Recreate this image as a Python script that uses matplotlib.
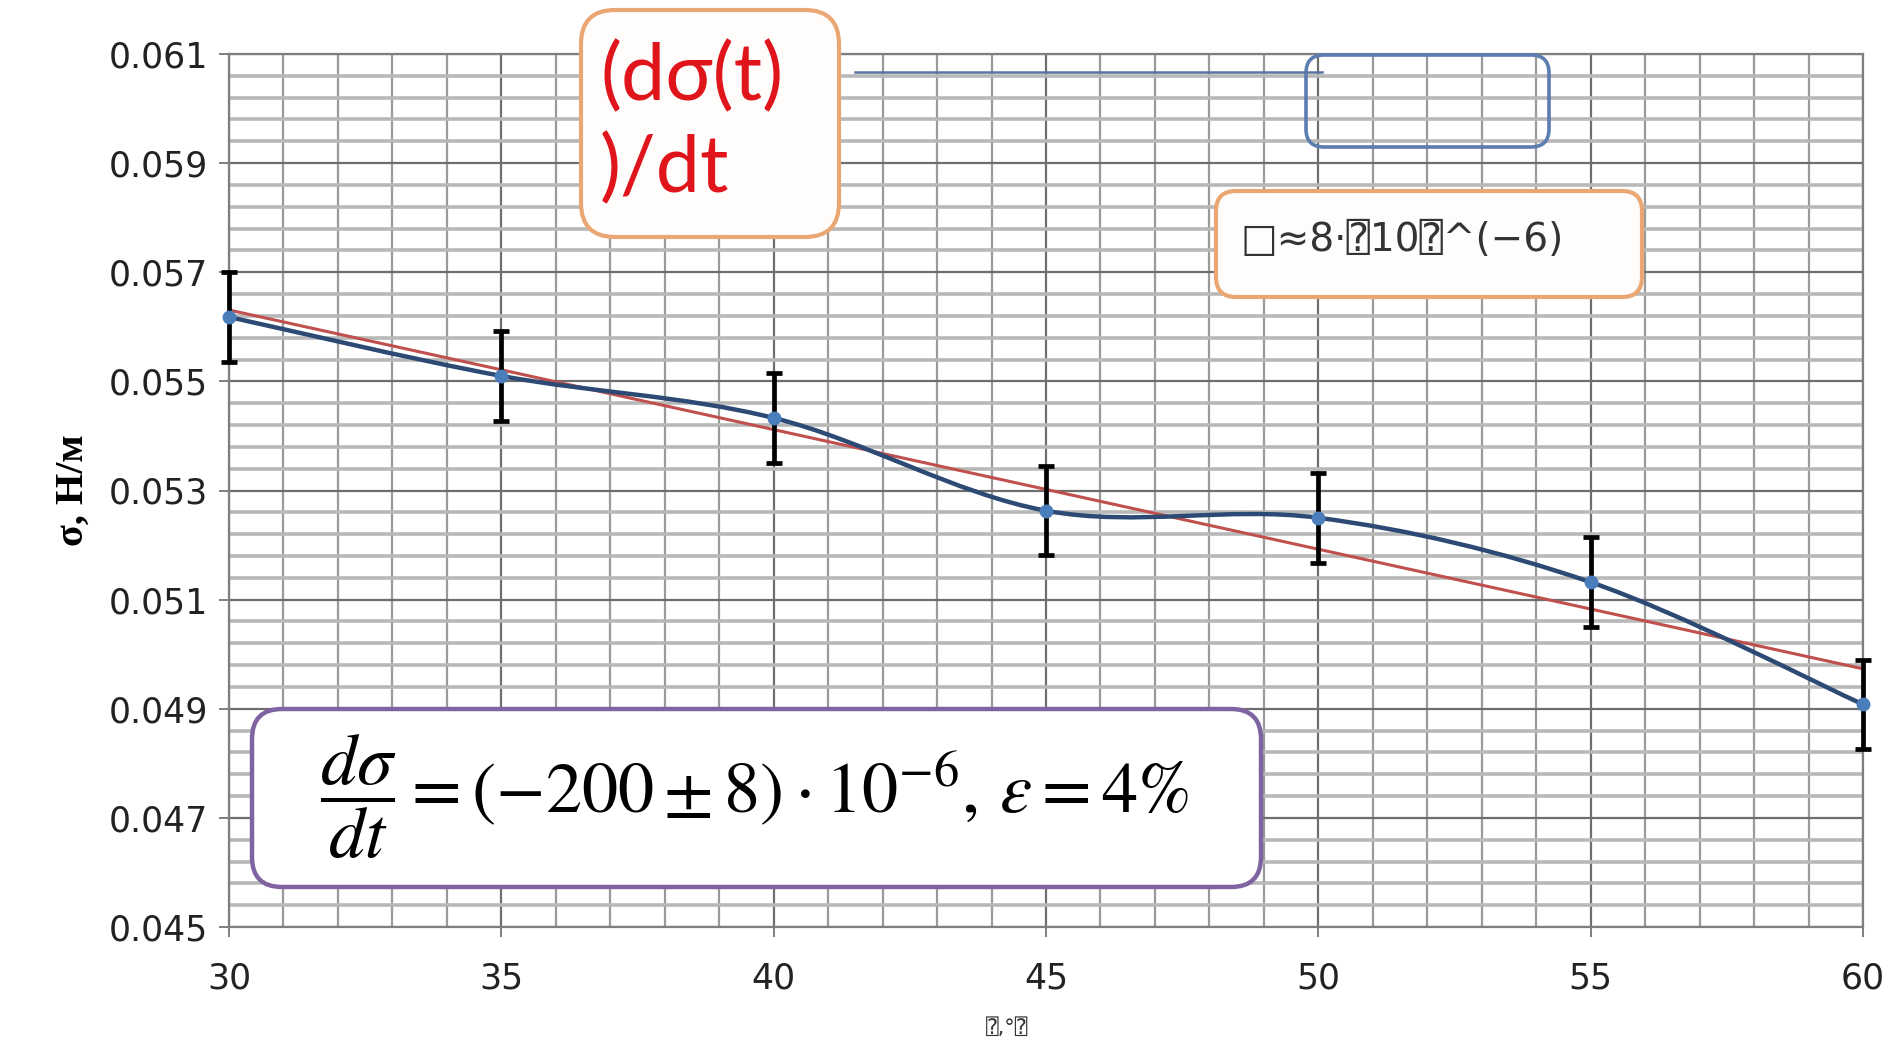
import numpy as np
import matplotlib
matplotlib.use("Agg")
import matplotlib.pyplot as plt
from matplotlib.path import Path
from matplotlib.patches import PathPatch, FancyBboxPatch
from matplotlib.lines import Line2D
from matplotlib.transforms import IdentityTransform

plt.rcParams['font.family'] = ['DejaVu Sans', 'DejaVu Sans Mono']
plt.rcParams['mathtext.fontset'] = 'stix'

# data
temps = [30, 35, 40, 45, 50, 55, 60]
sigma = [0.05618, 0.05510, 0.05433, 0.05263, 0.05250, 0.05132, 0.04908]
sigma_err = [0.00082, 0.00082, 0.00082, 0.00082, 0.00082, 0.00082, 0.00082]

x_ticks = [30, 35, 40, 45, 50, 55, 60]
y_ticks = [0.045, 0.047, 0.049, 0.051, 0.053, 0.055, 0.057, 0.059, 0.061]
y_tick_labels = ["0.045", "0.047", "0.049", "0.051", "0.053", "0.055",
                 "0.057", "0.059", "0.061"]

W, H = 1893, 1045
fig = plt.figure(figsize=(W / 100, H / 100), dpi=100)
ax = fig.add_axes([229 / W, 1 - 927 / H, (1863 - 229) / W, (927 - 54) / H])


def smooth_path(xs, ys):
    # excel-like smoothed line: bezier segments through the points
    n = len(xs)
    verts = [(xs[0], ys[0])]
    codes = [Path.MOVETO]
    for i in range(n - 1):
        x0, y0 = xs[max(i - 1, 0)], ys[max(i - 1, 0)]
        x1, y1 = xs[i], ys[i]
        x2, y2 = xs[i + 1], ys[i + 1]
        x3, y3 = xs[min(i + 2, n - 1)], ys[min(i + 2, n - 1)]
        c1 = (x1 + (x2 - x0) / 6, y1 + (y2 - y0) / 6)
        c2 = (x2 - (x3 - x1) / 6, y2 - (y3 - y1) / 6)
        verts += [c1, c2, (x2, y2)]
        codes += [Path.CURVE4] * 3
    return Path(verts, codes)


ax.set_xlim(30, 60)
ax.set_ylim(0.045, 0.061)
ax.set_xticks(x_ticks)
ax.set_xticks(np.arange(30, 61, 1), minor=True)
ax.set_yticks(y_ticks)
ax.set_yticklabels(y_tick_labels)
ax.set_yticks(np.arange(0.045, 0.0611, 0.0004), minor=True)

ax.grid(which='minor', axis='x', color='#9a9a9a', lw=1.6)
ax.grid(which='minor', axis='y', color='#b8b8b8', lw=2.6)
ax.grid(which='major', color='#6e6e6e', lw=1.6)
ax.set_axisbelow(True)
for s in ax.spines.values():
    s.set_color('#7f7f7f')
    s.set_linewidth(1.6)

ax.tick_params(which='minor', length=0)
ax.tick_params(which='major', length=7, width=1.4, color='#7f7f7f',
               labelsize=25, labelcolor='#222222')
ax.tick_params(axis='x', pad=18)
ax.tick_params(axis='y', pad=8)

# linear trend
k, b = np.polyfit(temps, sigma, 1)
ax.plot([30, 60], [k * 30 + b, k * 60 + b], color='#c0504d', lw=2.2,
        zorder=3)

ax.add_patch(PathPatch(smooth_path(temps, sigma), fill=False,
                       edgecolor='#2c4a74', lw=3.2, zorder=4))
ax.errorbar(temps, sigma, yerr=sigma_err, fmt='none', ecolor='black',
            elinewidth=3.4, capsize=6, capthick=3.4, zorder=5, clip_on=False)
ax.plot(temps, sigma, 'o', color='#4a7ebb', ms=9, zorder=6, clip_on=False)

ax.set_ylabel("σ, Н/м", family='Liberation Serif', fontweight='bold',
              fontsize=29, labelpad=12)
fig.text(1007, H - 1028, "⍰,°⍰", fontsize=15, color='#333333',
         ha='center', va='center', transform=IdentityTransform())


def box(x0, y0, x1, y1, ec, lw, r, fc='white'):
    p = FancyBboxPatch((x0, H - y1), x1 - x0, y1 - y0,
                       boxstyle="round,pad=0,rounding_size=%d" % r,
                       transform=IdentityTransform(), fc=fc, ec=ec, lw=lw)
    fig.add_artist(p)


# connector line and empty blue callout
fig.add_artist(Line2D([855, 1322], [H - 72, H - 72], color='#5a74a0', lw=1.8,
                      transform=IdentityTransform()))
box(1306, 55, 1549, 147, '#5b7db1', 2.6, 18, fc='none')

# red formula callout
box(581, 10, 839, 237, '#eaa774', 3.0, 34, fc='#fffdfb')
fig.text(600, H - 78, "(dσ(t)", fontsize=57, color='#e0141b',
         family='Lato', ha='left', va='center', transform=IdentityTransform())
fig.text(600, H - 170, ")/dt", fontsize=57, color='#e0141b',
         family='Lato', ha='left', va='center', transform=IdentityTransform())

# approx callout
box(1216, 191, 1642, 297, '#eaa774', 3.0, 20, fc='#fffdfb')
fig.text(1240, H - 240, "□≈8·⍰10⍰^(−6)", fontsize=28, color='#333333',
         ha='left', va='center', transform=IdentityTransform())

# result callout
box(252, 709, 1261, 887, '#8064a2', 3.2, 30)
fig.text(755, H - 797,
         r"$\dfrac{d\sigma}{dt}=(-200\pm 8)\cdot 10^{-6},\,\varepsilon=4\%$",
         fontsize=52, color='black', ha='center', va='center',
         transform=IdentityTransform())

fig.savefig("out.png", dpi=100)
